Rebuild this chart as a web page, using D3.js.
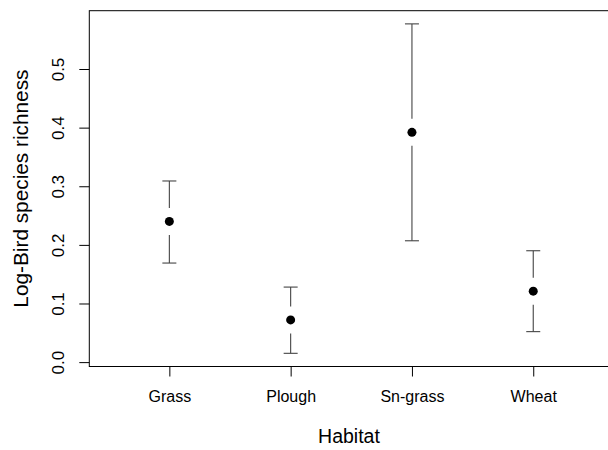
<!DOCTYPE html>
<html><head><meta charset="utf-8">
<script src="https://cdn.jsdelivr.net/npm/d3@7"></script>
<style>body{margin:0;background:#fff;} svg{display:block;font-family:"Liberation Sans",Arial,Helvetica,sans-serif;}</style>
</head><body>
<svg id="c" width="608" height="450"></svg>
<script>
const categories = ["Grass", "Plough", "Sn-grass", "Wheat"];
const means = [0.240, 0.072, 0.392, 0.121];
const upper = [0.309, 0.128, 0.577, 0.190];
const lower = [0.169, 0.015, 0.207, 0.052];
const yTicks = [0.0, 0.1, 0.2, 0.3, 0.4, 0.5];

(function () {
const svg = d3.select("#c");
const pl = 89.3, pr = 613.3, pt = 10.7, pb = 366.5;
const x = d3.scaleLinear().domain([0.34, 4.66]).range([pl, pr]);
const lo = d3.min(lower), hi = d3.max(upper), ext = (hi - lo) * 0.04;
const y = d3.scaleLinear().domain([lo - ext, hi + ext]).range([pb, pt]);

// box
svg.append("rect").attr("x", pl).attr("y", pt).attr("width", pr - pl).attr("height", pb - pt)
  .attr("fill", "none").attr("stroke", "#000").attr("stroke-width", 1);

// y axis
const ya = svg.append("g").attr("transform", `translate(${pl},0)`)
  .call(d3.axisLeft(y).tickValues(yTicks).tickSize(10).tickFormat(d3.format(".1f")));
ya.select(".domain").remove();
ya.selectAll("line").attr("stroke", "#000");
ya.selectAll("text").attr("font-size", 17).attr("fill", "#000")
  .attr("text-anchor", "middle").attr("dy", null).attr("x", 0).attr("y", 0)
  .attr("transform", "translate(-25,0) rotate(-90)");

// x axis
const xa = svg.append("g").attr("transform", `translate(0,${pb})`)
  .call(d3.axisBottom(x).tickValues([1, 2, 3, 4]).tickSize(10).tickFormat((d, i) => categories[i]));
xa.select(".domain").remove();
xa.selectAll("line").attr("stroke", "#000");
xa.selectAll("text").attr("font-size", 16).attr("fill", "#000").attr("dy", null).attr("y", 35);

// titles
svg.append("text").attr("x", 349).attr("y", 443).attr("text-anchor", "middle")
  .attr("font-size", 19.5).attr("fill", "#000").text("Habitat");
svg.append("text").attr("transform", `translate(27.5,${(pt + pb) / 2}) rotate(-90)`).attr("text-anchor", "middle")
  .attr("font-size", 20.8).attr("fill", "#000").text("Log-Bird species richness");

// error bars
const gap = 13.5, cap = 7;
const g = svg.append("g");
categories.forEach((c, i) => {
  const cx = x(i + 1), cy = y(means[i]);
  const st = l => l.attr("stroke", "#444").attr("stroke-width", 1.1);
  st(g.append("line").attr("x1", cx).attr("x2", cx).attr("y1", y(upper[i])).attr("y2", cy - gap));
  st(g.append("line").attr("x1", cx).attr("x2", cx).attr("y1", cy + gap).attr("y2", y(lower[i])));
  st(g.append("line").attr("x1", cx - cap).attr("x2", cx + cap).attr("y1", y(upper[i])).attr("y2", y(upper[i])));
  st(g.append("line").attr("x1", cx - cap).attr("x2", cx + cap).attr("y1", y(lower[i])).attr("y2", y(lower[i])));
  g.append("circle").attr("cx", cx).attr("cy", cy).attr("r", 4.5).attr("fill", "#000");
});
})();
</script>
</body></html>
